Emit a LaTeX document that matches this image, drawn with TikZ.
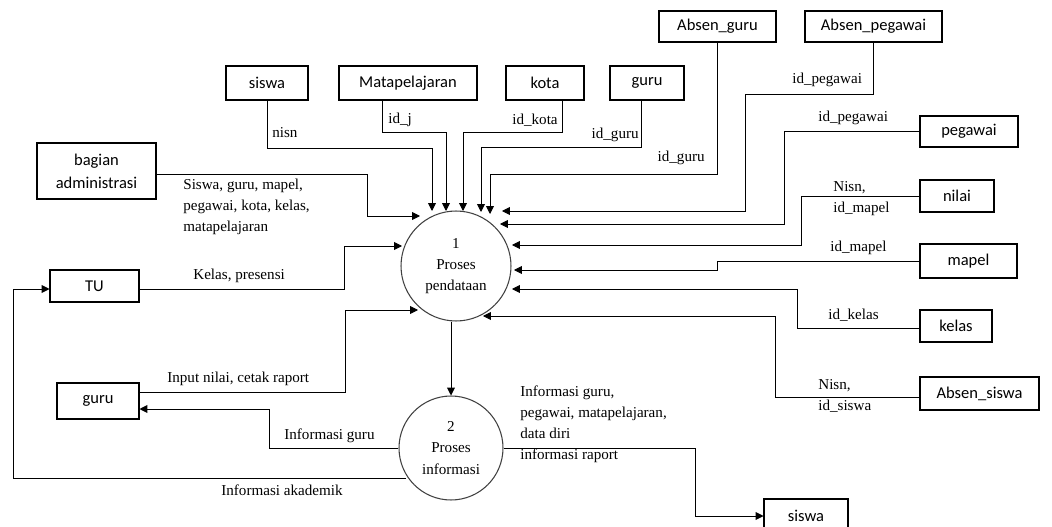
\documentclass[tikz,border=0pt]{standalone}
\usepackage{fontspec}
\setmainfont{Liberation Serif}
\setsansfont{Carlito}
\usetikzlibrary{arrows.meta,calc}
\tikzset{
    entity/.style={rectangle, draw, line width=0.6pt, inner sep=0pt,
    	align=center, font=\sffamily\fontsize{9.4}{13}\selectfont}
}
\tikzset{
    proses/.style={circle, draw=black!75, line width=0.6pt, inner sep=0pt,
    	align=center, font=\fontsize{8.6}{12}\selectfont}
}
\tikzset{
    flow/.style={inner sep=0pt, align=left, font=\fontsize{8.6}{12}\selectfont},
    arus/.style={-{Triangle[length=4.5pt,width=4.5pt]}, line width=0.5pt}
}

\begin{document}
\begin{tikzpicture}[x=0.02cm, y=-0.02cm]
	\useasboundingbox (0,0) rectangle (1052,527);

	\node (p1) [proses, minimum size=2.2cm] at (456,266) {1\\Proses\\pendataan};
	\node (p2) [proses, minimum size=2.08cm] at (451,448) {2\\Proses\\informasi};

	\node (siswaA) [entity, minimum width=1.64cm, minimum height=0.68cm] at (267,83) {siswa};
	\node (mp) [entity, minimum width=2.76cm, minimum height=0.68cm] at (408,83) {Matapelajaran};
	\node (kota) [entity, minimum width=1.56cm, minimum height=0.68cm] at (545,83) {kota};
	\node (guruA) [entity, minimum width=1.48cm, minimum height=0.68cm] at (647,83) {guru};
	\node (absguru) [entity, minimum width=2.34cm, minimum height=0.62cm] at (717.5,26.5) {Absen\_guru};
	\node (abspeg) [entity, minimum width=2.74cm, minimum height=0.62cm] at (873.5,26.5) {Absen\_pegawai};
	\node (pegawai) [entity, minimum width=1.96cm, minimum height=0.62cm] at (969,131.5) {pegawai};
	\node (nilai) [entity, minimum width=1.48cm, minimum height=0.64cm] at (957,196) {nilai};
	\node (mapel) [entity, minimum width=1.94cm, minimum height=0.68cm] at (968.5,261) {mapel};
	\node (kelas) [entity, minimum width=1.44cm, minimum height=0.64cm] at (956,326) {kelas};
	\node (abssiswa) [entity, minimum width=2.38cm, minimum height=0.66cm] at (979.5,393.5) {Absen\_siswa};
	\node (siswaB) [entity, minimum width=1.68cm, minimum height=0.68cm] at (806,516) {siswa};
	\node (bagian) [entity, minimum width=2.38cm, minimum height=1.12cm] at (96.5,171) {bagian\\administrasi};
	\node (tu) [entity, minimum width=1.78cm, minimum height=0.64cm] at (94.5,286) {TU};
	\node (guruB) [entity, minimum width=1.64cm, minimum height=0.72cm] at (98,401) {guru};

	% masuk ke proses 1 dari atas
	\draw [arus] (siswaA.south) |- (432,148) -- ($(p1)+(-24,-55)$);
	\draw [arus] (mp.south -| 382,0) |- (446,132) -- ($(p1)+(-10,-55)$);
	\draw [arus] (kota.south -| 562,0) |- (463,132) -- ($(p1)+(7,-55)$);
	\draw [arus] (guruA.south -| 641,0) |- (481,147) -- ($(p1)+(25,-54)$);
	\draw [arus] (absguru.south) |- (490,174) -- ($(p1)+(34,-52)$);
	\draw [arus] (abspeg.south) |- (745,94) |- ($(p1)+(46,-55)$);

	% masuk ke proses 1 dari kanan
	\draw [arus] (pegawai.west) -| (784,224) -- ($(p1)+(44,-42)$);
	\draw [arus] (nilai.west) -| (801,245) -- ($(p1)+(56,-21)$);
	\draw [arus] (mapel.west) -| (717,270) -- ($(p1)+(58,4)$);
	\draw [arus] (kelas.west |- 0,328) -| (797,289) -- ($(p1)+(56,23)$);
	\draw [arus] (abssiswa.west |- 0,397) -| (775,316) -- ($(p1)+(27,50)$);

	% masuk ke proses 1 dari kiri
	\draw [arus] (bagian.east |- 0,174) -| (367,216) -- ($(p1)+(-36,-50)$);
	\draw [arus] (tu.east |- 0,289) -| (344,246) -- ($(p1)+(-54,-20)$);
	\draw [arus] (guruB.east |- 0,392) -| (345,310) -- ($(p1)+(-38,44)$);

	\draw [arus] (p2.north |- p1.south) -- (p2.north);

	% keluar dari proses 2
	\draw [arus] (p2.west) -| (269,409) -- (guruB.east |- 0,409);
	\draw [arus] ($(p2)+(-45,30)$) -| (13,289) -- (tu.west |- 0,289);
	\draw [arus] (p2.east) -| (695,516) -- (siswaB.west);

	\node (lnisn) [flow, anchor=west] at (272,133) {nisn};
	\node (lidj) [flow, anchor=west] at (388,120) {id\_j};
	\node (lidkota) [flow, anchor=east] at (558,120) {id\_kota};
	\node (lidguruA) [flow, anchor=east] at (639,135) {id\_guru};
	\node (lidguruB) [flow, anchor=east] at (705,158) {id\_guru};
	\node (lidpegA) [flow, anchor=west] at (792,80) {id\_pegawai};
	\node (lidpegB) [flow, anchor=west] at (818,118) {id\_pegawai};
	\node (lnilai) [flow, anchor=west] at (833,199) {Nisn,\\id\_mapel};
	\node (lmapel) [flow, anchor=west] at (830,248) {id\_mapel};
	\node (lkelas) [flow, anchor=west] at (828,315) {id\_kelas};
	\node (lsiswa) [flow, anchor=west] at (818,396) {Nisn,\\id\_siswa};
	\node (lbagian) [flow, anchor=west] at (183,207) {Siswa, guru, mapel,\\pegawai, kota, kelas,\\matapelajaran};
	\node (ltu) [flow, anchor=west] at (193,276) {Kelas, presensi};
	\node (lguruin) [flow, anchor=west] at (167,379) {Input nilai, cetak raport};
	\node (lguruout) [flow, anchor=west] at (284,436) {Informasi guru};
	\node (lakad) [flow, anchor=west] at (221,490) {Informasi akademik};
	\node (linfo) [flow, anchor=west] at (520,424.5) {Informasi guru,\\pegawai, matapelajaran,\\data diri\\informasi raport};
\end{tikzpicture}
\end{document}
